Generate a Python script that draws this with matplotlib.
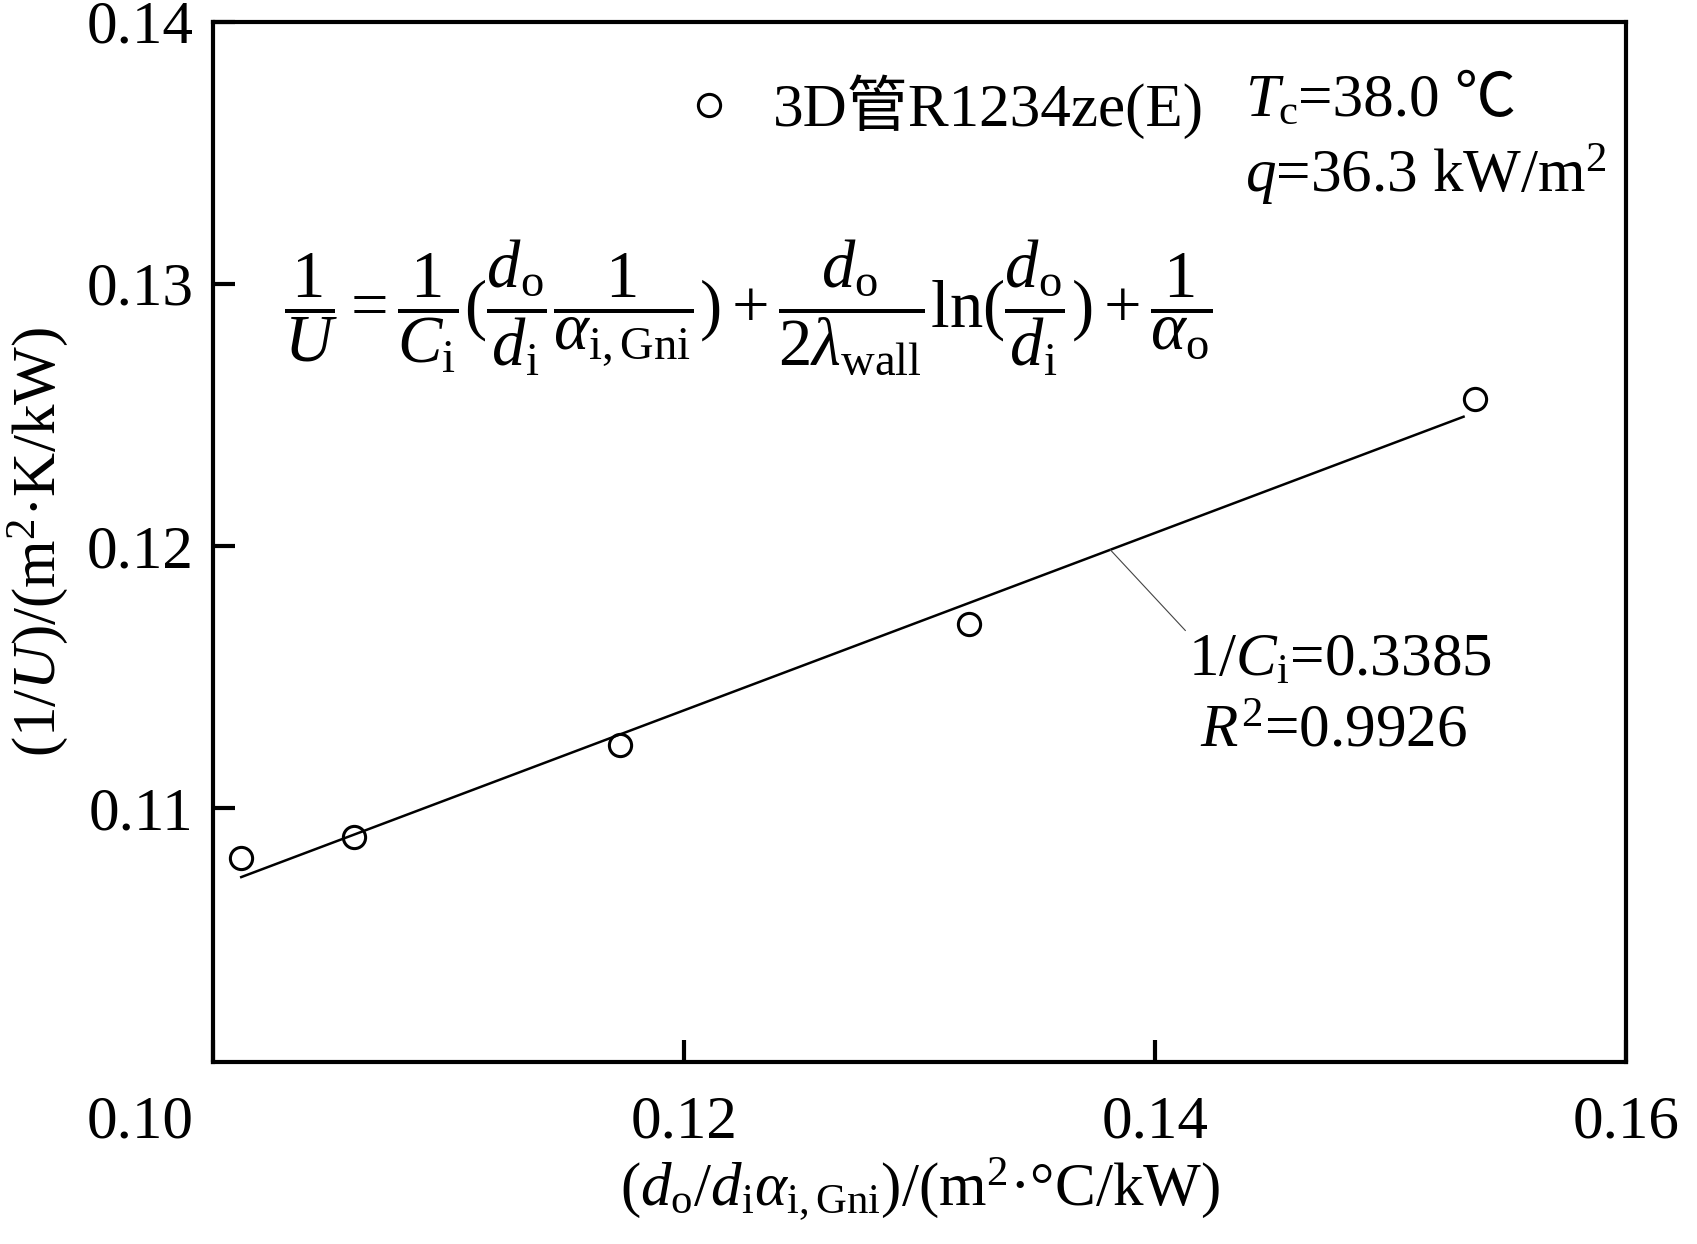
import matplotlib
matplotlib.use('Agg')
import matplotlib.pyplot as plt
import numpy as np

# data
x_vals = [0.1012, 0.1060, 0.1173, 0.1321, 0.1536]
y_vals = [0.1081, 0.1089, 0.1124, 0.1170, 0.1256]
fit_slope = 0.3385
fit_intercept = 0.0731
fit_x_range = [0.1012, 0.1531]
x_ticks = [0.10, 0.12, 0.14, 0.16]
x_tick_labels = ['0.10', '0.12', '0.14', '0.16']
y_ticks = [0.11, 0.12, 0.13, 0.14]
y_tick_labels = ['0.11', '0.12', '0.13', '0.14']
series_label = '3D管R1234ze(E)'

plt.rcParams['font.family'] = ['Liberation Serif', 'Noto Sans CJK SC', 'DejaVu Sans']
plt.rcParams['mathtext.fontset'] = 'custom'
plt.rcParams['mathtext.rm'] = 'Liberation Serif'
plt.rcParams['mathtext.it'] = 'Liberation Serif:italic'
plt.rcParams['mathtext.bf'] = 'Liberation Serif:bold'

FS = 44

fig = plt.figure(figsize=(16.97, 12.44), dpi=100)
ax = fig.add_axes([0.1255, 0.1463, 0.8327, 0.8363])

ax.plot(x_vals, y_vals, 'o', mfc='none', mec='black', ms=16, mew=2.2,
        label=series_label, zorder=3)
fx = np.array(fit_x_range)
ax.plot(fx, fit_slope * fx + fit_intercept, '-', color='black', lw=1.8)

ax.set_xlim(0.10, 0.16)
ax.set_ylim(0.1003, 0.14)
ax.set_xticks(x_ticks)
ax.set_xticklabels([''] + x_tick_labels[1:])
ax.set_yticks(y_ticks)
ax.set_yticklabels(y_tick_labels)
for s in ax.spines.values():
    s.set_linewidth(3)
ax.tick_params(direction='in', length=16, width=3, labelsize=FS,
               top=False, right=False)
ax.tick_params(axis='x', pad=24)
ax.tick_params(axis='y', pad=14)

# first x tick label shifted left of the axis corner
ax.annotate(x_tick_labels[0], xy=(x_ticks[0], 0), xycoords=('data', 'axes fraction'),
            xytext=(-14, -24), textcoords='offset points', ha='right', va='top',
            fontsize=FS)

ax.set_xlabel(r'($d_{\mathrm{o}}$/$d_{\mathrm{i}}\alpha_{\mathrm{i,Gni}}$)/(m$^2$·°C/kW)',
              fontsize=FS, labelpad=4)
ax.set_ylabel(r'(1/$U$)/(m$^2$·K/kW)', fontsize=FS, labelpad=12)

leg = ax.legend(loc='center left', bbox_to_anchor=(0.338, 0.918), frameon=False,
                fontsize=FS, handlelength=0.6, handletextpad=0.75, borderpad=0,
                borderaxespad=0)

tc = ax.text(0.730, 0.9095, r'$T_{\mathrm{c}}$', transform=ax.transAxes,
             fontsize=FS, ha='left', va='baseline')
ax.text(0.730, 0.8366, r'$q$=36.3 kW/m$^2$', transform=ax.transAxes,
        fontsize=FS, ha='left', va='baseline')

eq = (r'$\dfrac{1}{U}=\dfrac{1}{C_{\mathrm{i}}}(\dfrac{d_{\mathrm{o}}}{d_{\mathrm{i}}}'
      r'\dfrac{1}{\alpha_{\mathrm{i,Gni}}})+\dfrac{d_{\mathrm{o}}}{2\lambda_{\mathrm{wall}}}'
      r'\ln(\dfrac{d_{\mathrm{o}}}{d_{\mathrm{i}}})+\dfrac{1}{\alpha_{\mathrm{o}}}$')
ax.text(0.05, 0.725, eq, transform=ax.transAxes, fontsize=48, ha='left', va='center')

ax_x = 0.1381
ax.annotate(r'1/$C_{\mathrm{i}}$=0.3385', xy=(ax_x, fit_slope * ax_x + fit_intercept),
            xycoords='data', xytext=(0.690, 0.412), textcoords='axes fraction',
            fontsize=FS, ha='left', va='top',
            arrowprops=dict(arrowstyle='-', color='#444444', lw=0.8,
                            shrinkA=0, shrinkB=0, relpos=(0, 1)))
ax.text(0.793, 0.344, r'$R^2$=0.9926', transform=ax.transAxes,
        fontsize=FS, ha='center', va='top')

# place "=38.0 ℃" right after the T_c symbol, on the same baseline
fig.canvas.draw()
bb = tc.get_window_extent()
x_after = ax.transAxes.inverted().transform((bb.x1, bb.y0))[0]
ax.text(x_after, 0.9095, '=38.0 ℃', transform=ax.transAxes,
        fontsize=FS, ha='left', va='baseline')

fig.savefig('out.png', dpi=100)
